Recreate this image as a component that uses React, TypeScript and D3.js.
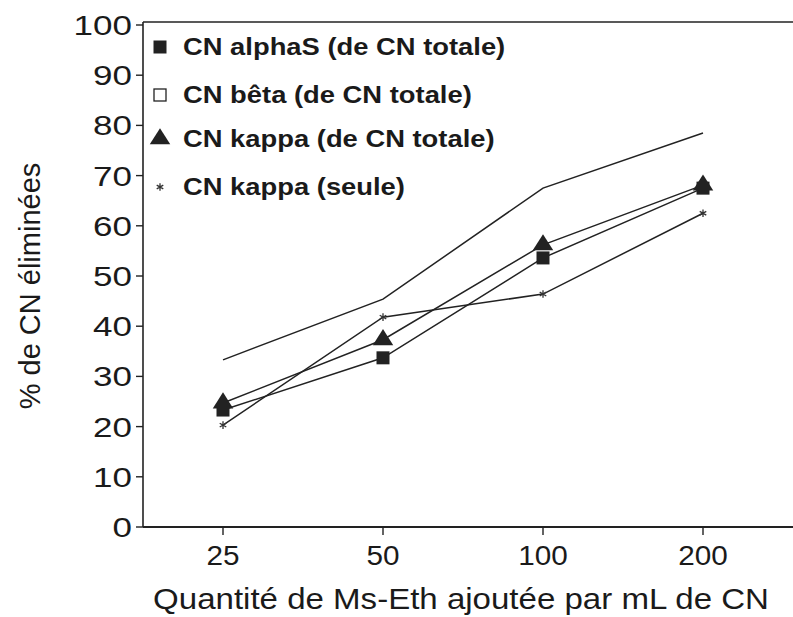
import * as d3 from "d3";

const categories = ["25", "50", "100", "200"];
const alphaS = [23.3, 33.7, 53.6, 67.5];
const beta = [33.3, 45.4, 67.5, 78.5];
const kappaTotale = [24.7, 37.3, 56.2, 68.1];
const kappaSeule = [20.3, 41.8, 46.4, 62.5];
const yTicks = [0, 10, 20, 30, 40, 50, 60, 70, 80, 90, 100];
const legendLabels = [
  "CN alphaS (de CN totale)",
  "CN bêta (de CN totale)",
  "CN kappa (de CN totale)",
  "CN kappa (seule)",
];

const W = 793;
const H = 617;
const left = 143;
const top = 25;
const bottom = 527;
const font = "'Liberation Sans', Arial, sans-serif";
// the scanned original is a bit wider than tall, so text gets stretched
const stretch = 1.17;

function Marker({ kind, x, y }: { kind: string; x: number; y: number }) {
  if (kind === "square")
    return <rect x={x - 6.5} y={y - 6.5} width={13} height={13} fill="#222" />;
  if (kind === "open")
    return <rect x={x - 6} y={y - 6} width={12} height={12} fill="#fff" stroke="#222" strokeWidth={1.3} />;
  if (kind === "triangle") {
    const p = d3.symbol(d3.symbolTriangle, 150)();
    return <path d={p || ""} transform={`translate(${x},${y}) scale(1.1,1)`} fill="#222" />;
  }
  if (kind === "star") {
    const p = d3.symbol(d3.symbolAsterisk, 40)();
    return <path d={p || ""} transform={`translate(${x},${y})`} fill="none" stroke="#333" strokeWidth={1.3} />;
  }
  return null;
}

function Label(props: {
  x: number;
  y: number;
  size: number;
  sx?: number;
  anchor?: string;
  bold?: boolean;
  dy?: string;
  children: string;
}) {
  const { x, y, size, sx = stretch, anchor = "start", bold, dy, children } = props;
  return (
    <text
      transform={`translate(${x},${y}) scale(${sx},1)`}
      dy={dy}
      textAnchor={anchor}
      fontSize={size}
      fontWeight={bold ? "bold" : "normal"}
      fill="#1a1a1a"
    >
      {children}
    </text>
  );
}

export default function App() {
  const x = d3.scaleBand<string>().domain(categories).range([left, left + 4 * 160]).padding(0);
  const y = d3.scaleLinear().domain([0, 100]).range([bottom, top]);
  const cx = (c: string) => (x(c) || 0) + x.bandwidth() / 2;
  const line = d3
    .line<number>()
    .x((_, i) => cx(categories[i]))
    .y((d) => y(d));

  const series = [
    { values: alphaS, kind: "square", showMarks: true },
    { values: beta, kind: "open", showMarks: false },
    { values: kappaTotale, kind: "triangle", showMarks: true },
    { values: kappaSeule, kind: "star", showMarks: true },
  ];
  const legendKinds = ["square", "open", "triangle", "star"];
  const legendY = [47, 95, 139, 187];

  return (
    <svg width={W} height={H} style={{ position: "absolute", left: 0, top: 0, background: "#fff" }} fontFamily={font}>
      <rect width={W} height={H} fill="#fff" />
      {/* frame */}
      <line x1={left} x2={W} y1={22} y2={22} stroke="#222" strokeWidth={1.6} />
      <line x1={left} x2={left} y1={22} y2={bottom} stroke="#222" strokeWidth={1.6} />
      <line x1={left} x2={W} y1={bottom} y2={bottom} stroke="#222" strokeWidth={1.8} />
      {yTicks.map((t) => (
        <g key={t}>
          <line x1={left - 7} x2={left} y1={y(t)} y2={y(t)} stroke="#222" strokeWidth={1.4} />
          <Label x={left - 11} y={y(t)} dy="0.36em" anchor="end" size={28} sx={1.25}>
            {String(t)}
          </Label>
        </g>
      ))}
      {categories.map((c) => (
        <g key={c}>
          <line x1={cx(c)} x2={cx(c)} y1={bottom} y2={bottom + 8} stroke="#222" strokeWidth={1.4} />
          <Label x={cx(c)} y={bottom + 38} anchor="middle" size={27} sx={1.1}>
            {c}
          </Label>
        </g>
      ))}
      <Label x={461} y={609} anchor="middle" size={29} sx={1.14}>
        Quantité de Ms-Eth ajoutée par mL de CN
      </Label>
      <text
        transform={`translate(40,${(top + bottom) / 2 + 10}) rotate(-90)`}
        textAnchor="middle"
        fontSize={29}
        fill="#1a1a1a"
      >
        % de CN éliminées
      </text>
      {series.map((s, i) => (
        <g key={i}>
          <path d={line(s.values) || ""} fill="none" stroke="#222" strokeWidth={1.5} />
          {s.showMarks &&
            s.values.map((v, j) => <Marker key={j} kind={s.kind} x={cx(categories[j])} y={y(v)} />)}
        </g>
      ))}
      {legendLabels.map((l, i) => (
        <g key={l}>
          <Marker kind={legendKinds[i]} x={160} y={legendY[i]} />
          <Label x={183} y={legendY[i]} dy="0.36em" size={23} sx={1.19} bold>
            {l}
          </Label>
        </g>
      ))}
    </svg>
  );
}
